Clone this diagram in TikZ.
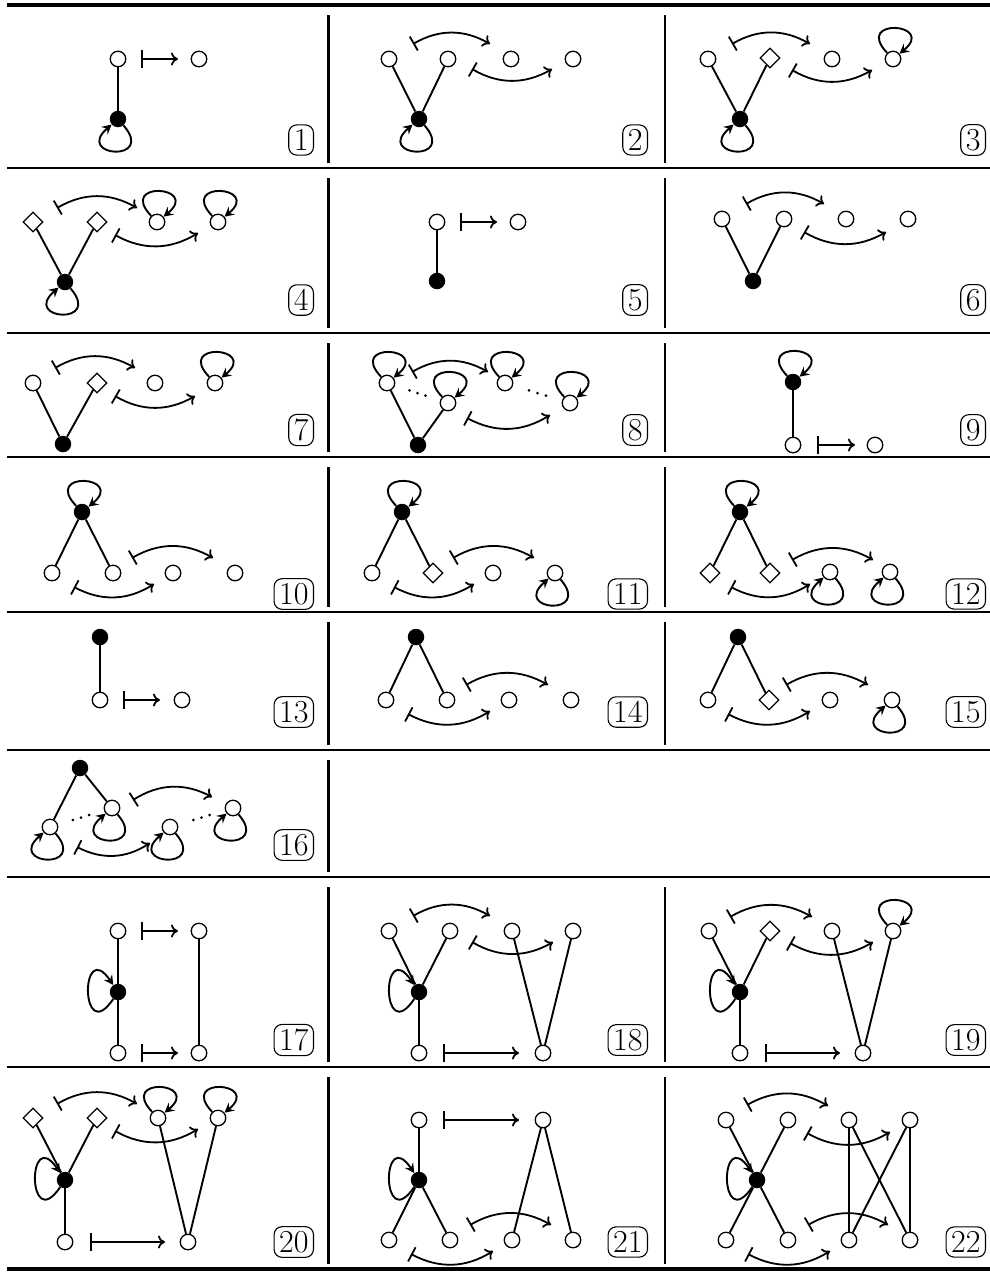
\documentclass[tikz,border=0pt]{standalone}
\usepackage{fontspec}
\usetikzlibrary{arrows.meta,shapes.geometric,calc}
\tikzset{
  wn/.style={circle,draw,fill=white,line width=1.3pt,minimum size=15.5pt,inner sep=0pt},
  bn/.style={circle,fill=black,minimum size=16.5pt,inner sep=0pt},
  dn/.style={diamond,draw,fill=white,line width=1.3pt,minimum size=20pt,inner sep=0pt},
  ed/.style={line width=1.9pt},
  mapst/.style={line width=1.8pt,{Bar[width=18pt]}-{To[length=7pt,width=13pt]}},
  cmap/.style={line width=1.8pt,{Bar[width=16pt]}-{To[length=7pt,width=13pt]}},
  lp/.style={line width=1.9pt,-{Stealth[length=9.5pt,width=10pt,inset=3.5pt]}},
  lbl/.style={draw,line width=1.1pt,rounded corners=8pt,inner xsep=5pt,inner ysep=4.5pt,font=\fontsize{32}{32}\selectfont,anchor=east},
  rl/.style={line width=2.3pt},
  trl/.style={line width=4pt},
  vrl/.style={line width=2.1pt},
}
\newcommand\lpB[1]{\draw[lp] (#1) .. controls +(38,44) and +(-44,38) .. (#1);}
\newcommand\lpA[1]{\draw[lp] (#1) .. controls +(-40,-42) and +(44,-36) .. (#1);}
\newcommand\lpL[1]{\draw[lp] (#1) .. controls +(-38,56) and +(-38,-56) .. (#1);}
\newcommand\cU[3]{\coordinate (#1s) at (#2);\coordinate (#1e) at (#3);\draw[cmap] (#1s) to[bend left=30] (#1e);}
\newcommand\cD[3]{\coordinate (#1s) at (#2);\coordinate (#1e) at (#3);\draw[cmap] (#1s) to[bend right=30] (#1e);}
\newcommand\mt[3]{\coordinate (#1s) at (#2);\coordinate (#1e) at (#3);\draw[mapst] (#1s) -- (#1e);}
\newcommand\dts[2]{\foreach \t in {0.37,0.5,0.63}{\fill ($(#1)!\t!(#2)$) circle (1.5);}}
\begin{document}
\begin{tikzpicture}[x=1pt,y=-1pt]
\useasboundingbox (0,0) rectangle (990,1275);
% rules
\draw[trl] (7,5) -- (990,5);
\foreach \y in {168,333,457,612,750,877,1067} {\draw[rl] (7,\y) -- (990,\y);}
\draw[trl] (7,1269) -- (990,1269);
\foreach \ya/\yb in {15/163,178/328,343/452,467/607,622/745,760/872,887/1062,1077/1264} {\draw[vrl] (328.5,\ya) -- (328.5,\yb);}
\foreach \ya/\yb in {15/163,178/328,343/452,467/607,622/745,887/1062,1077/1264} {\draw[vrl] (665,\ya) -- (665,\yb);}

% ---- cell 1
\node[wn] (a1) at (118,59) {};
\node[wn] (b1) at (199,59) {};
\node[bn] (k1) at (118,119) {};
\draw[ed] (a1) -- (k1);
\lpB{k1}
\mt{m1}{141,59}{178,59}
\node[lbl] (L1) at (314,140) {1};

% ---- cell 2
\node[wn] (a2) at (389,59) {};
\node[wn] (b2) at (448,59) {};
\node[wn] (c2) at (511,59) {};
\node[wn] (d2) at (573,59) {};
\node[bn] (k2) at (419,119) {};
\draw[ed] (k2) -- (a2); \draw[ed] (k2) -- (b2);
\lpB{k2}
\cU{u2}{413,44}{490,44}
\cD{v2}{472,69}{552,69}
\node[lbl] (L2) at (648,140) {2};

% ---- cell 3
\node[wn] (a3) at (708,59) {};
\node[dn] (b3) at (770,58) {};
\node[wn] (c3) at (832,59) {};
\node[wn] (d3) at (893,59) {};
\node[bn] (k3) at (740,119) {};
\draw[ed] (k3) -- (a3); \draw[ed] (k3) -- (b3);
\lpB{k3} \lpA{d3}
\cU{u3}{732,44}{810,44}
\cD{v3}{792,70}{872,70}
\node[lbl] (L3) at (986,140) {3};

% ---- cell 4
\node[dn] (a4) at (33,222) {};
\node[dn] (b4) at (97,222) {};
\node[wn] (c4) at (157,222) {};
\node[wn] (d4) at (218,222) {};
\node[bn] (k4) at (65,282) {};
\draw[ed] (k4) -- (a4); \draw[ed] (k4) -- (b4);
\lpB{k4} \lpA{c4} \lpA{d4}
\cU{u4}{57,208}{137,208}
\cD{v4}{115,235}{198,233}
\node[lbl] (L4) at (314,300) {4};

% ---- cell 5
\node[wn] (a5) at (437,222) {};
\node[wn] (b5) at (518,222) {};
\node[bn] (k5) at (437,281) {};
\draw[ed] (a5) -- (k5);
\mt{m5}{460,222}{497,222}
\node[lbl] (L5) at (648,300) {5};

% ---- cell 6
\node[wn] (a6) at (722,219) {};
\node[wn] (b6) at (784,219) {};
\node[wn] (c6) at (846,219) {};
\node[wn] (d6) at (908,219) {};
\node[bn] (k6) at (753,281) {};
\draw[ed] (k6) -- (a6); \draw[ed] (k6) -- (b6);
\cU{u6}{746,204}{824,204}
\cD{v6}{804,232}{886,232}
\node[lbl] (L6) at (986,300) {6};

% ---- cell 7
\node[wn] (a7) at (33,383) {};
\node[dn] (b7) at (97,383) {};
\node[wn] (c7) at (155,383) {};
\node[wn] (d7) at (215,383) {};
\node[bn] (k7) at (63,444) {};
\draw[ed] (k7) -- (a7); \draw[ed] (k7) -- (b7);
\lpA{d7}
\cU{u7}{55,368}{135,368}
\cD{v7}{115,396}{195,396}
\node[lbl] (L7) at (314,430) {7};

% ---- cell 8
\node[wn] (a8) at (387,383) {};
\node[wn] (b8) at (448,403) {};
\node[wn] (c8) at (505,383) {};
\node[wn] (d8) at (570,403) {};
\node[bn] (k8) at (418,445) {};
\draw[ed] (k8) -- (a8); \draw[ed] (k8) -- (b8);
\lpA{a8} \lpA{b8} \lpA{c8} \lpA{d8}
\dts{a8}{b8} \dts{c8}{d8}
\cU{u8}{412,372}{488,372}
\cD{v8}{467,418}{550,415}
\node[lbl] (L8) at (648,430) {8};

% ---- cell 9
\node[bn] (k9) at (793,382) {};
\node[wn] (a9) at (793,445) {};
\node[wn] (b9) at (875,445) {};
\draw[ed] (k9) -- (a9);
\lpA{k9}
\mt{m9}{817,445}{855,445}
\node[lbl] (L9) at (986,430) {9};

% ---- cell 10
\node[bn] (k10) at (82,512) {};
\node[wn] (a10) at (52,573) {};
\node[wn] (b10) at (113,573) {};
\node[wn] (c10) at (173,573) {};
\node[wn] (d10) at (235,573) {};
\draw[ed] (k10) -- (a10); \draw[ed] (k10) -- (b10);
\lpA{k10}
\cU{u10}{132,558}{213,558}
\cD{v10}{74,587}{154,584}
\node[lbl] (L10) at (314,594) {10};

% ---- cell 11
\node[bn] (k11) at (402,512) {};
\node[wn] (a11) at (372,573) {};
\node[dn] (b11) at (433,573) {};
\node[wn] (c11) at (493,573) {};
\node[wn] (d11) at (555,573) {};
\draw[ed] (k11) -- (a11); \draw[ed] (k11) -- (b11);
\lpA{k11} \lpB{d11}
\cU{u11}{453,558}{534,558}
\cD{v11}{394,587}{474,584}
\node[lbl] (L11) at (648,594) {11};

% ---- cell 12
\node[bn] (k12) at (740,512) {};
\node[dn] (a12) at (710,573) {};
\node[dn] (b12) at (770,573) {};
\node[wn] (c12) at (830,572) {};
\node[wn] (d12) at (890,572) {};
\draw[ed] (k12) -- (a12); \draw[ed] (k12) -- (b12);
\lpA{k12} \lpB{c12} \lpB{d12}
\cU{u12}{792,560}{873,560}
\cD{v12}{731,587}{810,584}
\node[lbl] (L12) at (986,594) {12};

% ---- cell 13
\node[bn] (k13) at (100,637) {};
\node[wn] (a13) at (100,700) {};
\node[wn] (b13) at (182,700) {};
\draw[ed] (k13) -- (a13);
\mt{m13}{123,700}{160,700}
\node[lbl] (L13) at (314,712) {13};

% ---- cell 14
\node[bn] (k14) at (416,637) {};
\node[wn] (a14) at (386,700) {};
\node[wn] (b14) at (447,700) {};
\node[wn] (c14) at (509,700) {};
\node[wn] (d14) at (571,700) {};
\draw[ed] (k14) -- (a14); \draw[ed] (k14) -- (b14);
\cU{u14}{466,685}{548,685}
\cD{v14}{408,714}{490,711}
\node[lbl] (L14) at (648,712) {14};

% ---- cell 15
\node[bn] (k15) at (738,637) {};
\node[wn] (a15) at (708,700) {};
\node[dn] (b15) at (769,700) {};
\node[wn] (c15) at (830,700) {};
\node[wn] (d15) at (892,700) {};
\draw[ed] (k15) -- (a15); \draw[ed] (k15) -- (b15);
\lpB{d15}
\cU{u15}{786,685}{868,685}
\cD{v15}{728,714}{810,711}
\node[lbl] (L15) at (986,712) {15};

% ---- cell 16
\node[bn] (k16) at (80,768) {};
\node[wn] (a16) at (50,827) {};
\node[wn] (b16) at (112,808) {};
\node[wn] (c16) at (170,827) {};
\node[wn] (d16) at (233,808) {};
\draw[ed] (k16) -- (a16); \draw[ed] (k16) -- (b16);
\lpB{a16} \lpB{b16} \lpB{c16} \lpB{d16}
\dts{a16}{b16} \dts{c16}{d16}
\cU{u16}{133,800}{212,797}
\cD{v16}{77,847}{150,843}
\node[lbl] (L16) at (314,845) {16};

% ---- cell 17
\node[wn] (a17) at (118,931) {};
\node[bn] (k17) at (118,992) {};
\node[wn] (b17) at (118,1053) {};
\node[wn] (c17) at (199,931) {};
\node[wn] (d17) at (199,1053) {};
\draw[ed] (a17) -- (k17); \draw[ed] (k17) -- (b17); \draw[ed] (c17) -- (d17);
\lpL{k17}
\mt{m17}{141,931}{178,931}
\mt{n17}{141,1053}{178,1053}
\node[lbl] (L17) at (314,1040) {17};

% ---- cell 18
\node[wn] (a18) at (389,931) {};
\node[wn] (b18) at (450,931) {};
\node[wn] (c18) at (512,931) {};
\node[wn] (d18) at (573,931) {};
\node[bn] (k18) at (419,992) {};
\node[wn] (e18) at (419,1053) {};
\node[wn] (f18) at (543,1053) {};
\draw[ed] (k18) -- (a18); \draw[ed] (k18) -- (b18); \draw[ed] (k18) -- (e18);
\draw[ed] (f18) -- (c18); \draw[ed] (f18) -- (d18);
\lpL{k18}
\cU{u18}{413,916}{490,916}
\cD{v18}{472,942}{553,942}
\mt{m18}{443,1053}{519,1053}
\node[lbl] (L18) at (648,1040) {18};

% ---- cell 19
\node[wn] (a19) at (709,931) {};
\node[dn] (b19) at (770,931) {};
\node[wn] (c19) at (832,931) {};
\node[wn] (d19) at (893,931) {};
\node[bn] (k19) at (740,992) {};
\node[wn] (e19) at (740,1053) {};
\node[wn] (f19) at (863,1053) {};
\draw[ed] (k19) -- (a19); \draw[ed] (k19) -- (b19); \draw[ed] (k19) -- (e19);
\draw[ed] (f19) -- (c19); \draw[ed] (f19) -- (d19);
\lpL{k19} \lpA{d19}
\cU{u19}{730,917}{812,917}
\cD{v19}{790,943}{873,942}
\mt{m19}{765,1053}{840,1053}
\node[lbl] (L19) at (986,1040) {19};

% ---- cell 20
\node[dn] (a20) at (33,1118) {};
\node[dn] (b20) at (97,1118) {};
\node[wn] (c20) at (158,1118) {};
\node[wn] (d20) at (218,1118) {};
\node[bn] (k20) at (65,1180) {};
\node[wn] (e20) at (65,1242) {};
\node[wn] (f20) at (188,1242) {};
\draw[ed] (k20) -- (a20); \draw[ed] (k20) -- (b20); \draw[ed] (k20) -- (e20);
\draw[ed] (f20) -- (c20); \draw[ed] (f20) -- (d20);
\lpL{k20} \lpA{c20} \lpA{d20}
\cU{u20}{57,1104}{137,1104}
\cD{v20}{115,1131}{198,1129}
\mt{m20}{90,1242}{165,1242}
\node[lbl] (L20) at (314,1242) {20};

% ---- cell 21
\node[wn] (a21) at (419,1120) {};
\node[bn] (k21) at (419,1180) {};
\node[wn] (b21) at (389,1240) {};
\node[wn] (c21) at (450,1240) {};
\node[wn] (d21) at (512,1240) {};
\node[wn] (e21) at (573,1240) {};
\node[wn] (f21) at (543,1120) {};
\draw[ed] (k21) -- (a21); \draw[ed] (k21) -- (b21); \draw[ed] (k21) -- (c21);
\draw[ed] (f21) -- (d21); \draw[ed] (f21) -- (e21);
\lpL{k21}
\mt{m21}{443,1120}{519,1120}
\cU{u21}{470,1225}{551,1225}
\cD{v21}{411,1254}{493,1251}
\node[lbl] (L21) at (648,1242) {21};

% ---- cell 22
\node[wn] (a22) at (726,1120) {};
\node[wn] (b22) at (788,1120) {};
\node[wn] (c22) at (849,1120) {};
\node[wn] (d22) at (910,1120) {};
\node[bn] (k22) at (757,1180) {};
\node[wn] (e22) at (726,1240) {};
\node[wn] (f22) at (788,1240) {};
\node[wn] (g22) at (849,1240) {};
\node[wn] (h22) at (910,1240) {};
\draw[ed] (k22) -- (a22); \draw[ed] (k22) -- (b22); \draw[ed] (k22) -- (e22); \draw[ed] (k22) -- (f22);
\draw[ed] (c22) -- (g22); \draw[ed] (d22) -- (h22); \draw[ed] (c22) -- (h22); \draw[ed] (d22) -- (g22);
\lpL{k22}
\cU{u22}{747,1105}{828,1106}
\cD{v22}{807,1133}{890,1132}
\cU{w22}{808,1225}{888,1225}
\cD{x22}{748,1254}{830,1251}
\node[lbl] (L22) at (986,1242) {22};
\end{tikzpicture}
\end{document}
